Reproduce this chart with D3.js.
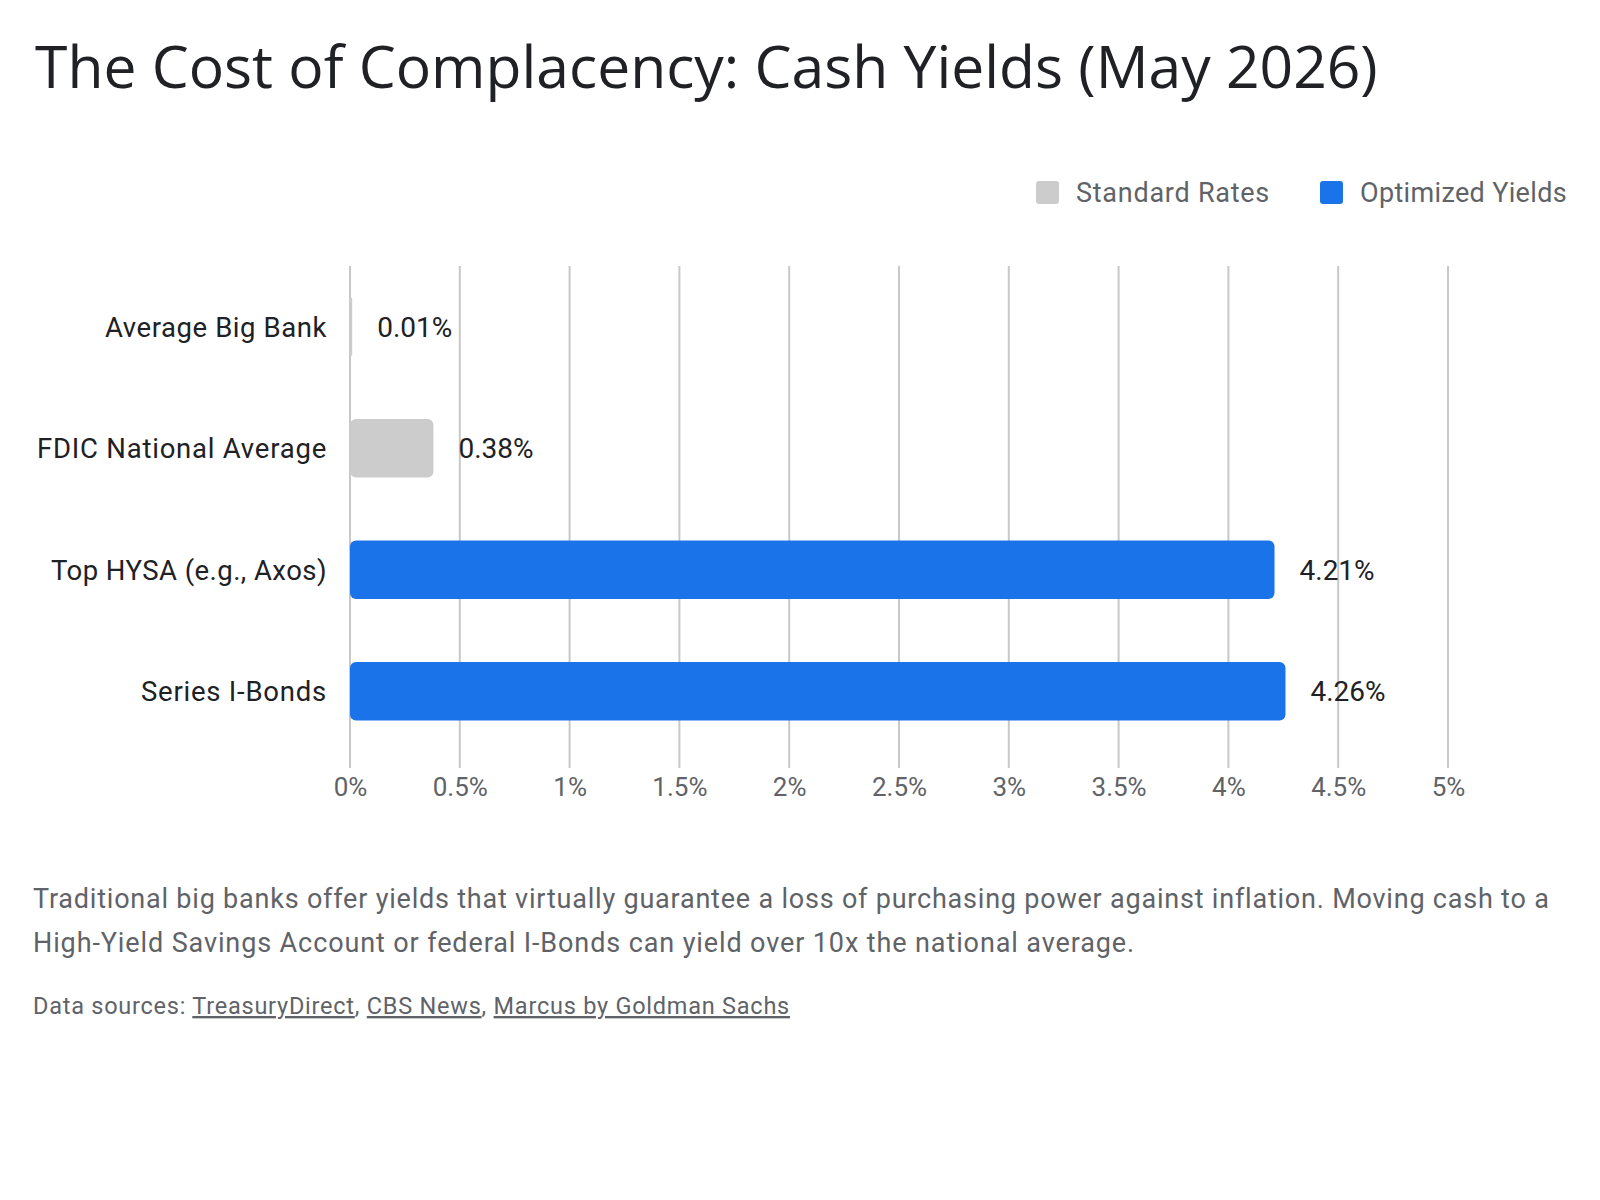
<!DOCTYPE html>
<html>
<head>
<meta charset="utf-8">
<script src="https://cdn.jsdelivr.net/npm/d3@7"></script>
<style>
  body { margin: 0; background: #fff; }
  svg text { font-family: Roboto, "Noto Sans", sans-serif; }
</style>
</head>
<body>
<svg id="chart" width="1600" height="1200"></svg>
<script>
// chart data
var categories = ["Average Big Bank", "FDIC National Average", "Top HYSA (e.g., Axos)", "Series I-Bonds"];
var yields = [0.01, 0.38, 4.21, 4.26];
var groups = ["Standard Rates", "Standard Rates", "Optimized Yields", "Optimized Yields"];
var legendNames = ["Standard Rates", "Optimized Yields"];
var tickValues = [0, 0.5, 1, 1.5, 2, 2.5, 3, 3.5, 4, 4.5, 5];

var colors = {"Standard Rates": "#cccccc", "Optimized Yields": "#1a73e8"};

var svg = d3.select("#chart");

var x = d3.scaleLinear().domain([0, 5]).range([350, 1448]);
var y = d3.scaleBand().domain(categories).range([266, 752])
  .paddingInner(0.52).paddingOuter(0.26);

// fit a text to a width by changing its font size
function fit(sel, w) {
  var len = sel.node().getComputedTextLength();
  var fs = parseFloat(sel.attr("font-size"));
  sel.attr("font-size", fs * w / len);
}

// the reference font runs a bit wider than Roboto, so spread the letters
function spread(sel, w) {
  sel.each(function(d, i) {
    var t = d3.select(this);
    var target = typeof w === "function" ? w(d, i) : w;
    var n = t.text().length;
    var len = this.getComputedTextLength();
    t.attr("letter-spacing", (target - len) / n);
  });
}

// title
svg.append("text")
  .attr("x", 35).attr("y", 88)
  .attr("font-size", 60)
  .attr("fill", "#202124")
  .style("font-family", "'Open Sans', Roboto, sans-serif")
  .text("The Cost of Complacency: Cash Yields (May 2026)")
  .call(fit, 1343);

// legend
var legX = [1036, 1320];
var legW = [194, 207];
var leg = svg.selectAll(".leg")
  .data(legendNames)
  .enter().append("g")
  .attr("class", "leg")
  .attr("transform", function(d, i) { return "translate(" + legX[i] + ",181)"; });

leg.append("rect")
  .attr("width", 23).attr("height", 23).attr("rx", 3)
  .attr("fill", function(d) { return colors[d]; });

leg.append("text")
  .attr("x", 40).attr("y", 21)
  .attr("font-size", 27)
  .attr("fill", "#5f6368")
  .text(function(d) { return d; })
  .call(spread, function(d, i) { return legW[i]; });

// gridlines
svg.append("g")
  .selectAll("line")
  .data(tickValues)
  .enter().append("line")
  .attr("x1", function(d) { return x(d); })
  .attr("x2", function(d) { return x(d); })
  .attr("y1", 266).attr("y2", 768)
  .attr("stroke", "#c8c8c8")
  .attr("stroke-width", 2);

// x axis labels
var xAxis = d3.axisBottom(x)
  .tickValues(tickValues)
  .tickSize(0)
  .tickPadding(0)
  .tickFormat(function(d) { return d + "%"; });

svg.append("g")
  .attr("transform", "translate(0,778)")
  .call(xAxis)
  .call(function(g) {
    g.select(".domain").remove();
    g.selectAll("text")
      .attr("dy", "0.71em")
      .attr("font-size", 26)
      .attr("fill", "#5f6368")
      .style("font-family", "Roboto, sans-serif");
  });

// bars
svg.append("g")
  .selectAll("rect")
  .data(yields)
  .enter().append("rect")
  .attr("x", x(0))
  .attr("y", function(d, i) { return y(categories[i]); })
  .attr("width", function(d) { return x(d) - x(0); })
  .attr("height", y.bandwidth())
  .attr("rx", function(d) { return Math.min(6, (x(d) - x(0)) / 2); })
  .attr("fill", function(d, i) { return colors[groups[i]]; });

// category labels
var labelW = [222, 290, 276, 186];
svg.append("g")
  .selectAll("text")
  .data(categories)
  .enter().append("text")
  .attr("x", 327)
  .attr("y", function(d) { return y(d) + y.bandwidth() / 2; })
  .attr("dy", "0.36em")
  .attr("text-anchor", "end")
  .attr("font-size", 27.5)
  .attr("fill", "#202124")
  .text(function(d) { return d; })
  .call(spread, function(d, i) { return labelW[i]; });

// value labels
svg.append("g")
  .selectAll("text")
  .data(yields)
  .enter().append("text")
  .attr("x", function(d) { return x(d) + 25; })
  .attr("y", function(d, i) { return y(categories[i]) + y.bandwidth() / 2; })
  .attr("dy", "0.36em")
  .attr("font-size", 28)
  .attr("fill", "#202124")
  .text(function(d) { return d.toFixed(2) + "%"; });

// caption
var caption = [
  "Traditional big banks offer yields that virtually guarantee a loss of purchasing power against inflation. Moving cash to a",
  "High-Yield Savings Account or federal I-Bonds can yield over 10x the national average."
];
var captionW = [1516, 1102];
svg.append("g")
  .selectAll("text")
  .data(caption)
  .enter().append("text")
  .attr("x", 33)
  .attr("y", function(d, i) { return 908 + i * 44; })
  .attr("font-size", 27)
  .attr("fill", "#5f6368")
  .text(function(d) { return d; })
  .call(spread, function(d, i) { return captionW[i]; });

// sources
var src = svg.append("text")
  .attr("x", 33).attr("y", 1014)
  .attr("font-size", 23.5)
  .attr("fill", "#5f6368");
src.append("tspan").text("Data sources: ");
src.append("tspan").attr("text-decoration", "underline").text("TreasuryDirect");
src.append("tspan").text(", ");
src.append("tspan").attr("text-decoration", "underline").text("CBS News");
src.append("tspan").text(", ");
src.append("tspan").attr("text-decoration", "underline").text("Marcus by Goldman Sachs");
src.call(spread, 757);
</script>
</body>
</html>
